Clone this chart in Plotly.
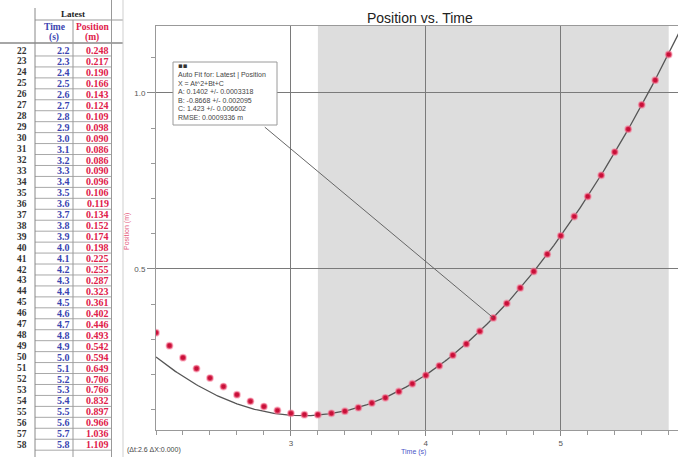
import plotly.graph_objects as go
import numpy as np

# ---------------- data ----------------
row_numbers = list(range(20, 59))
time_s = [2.0, 2.1, 2.2, 2.3, 2.4, 2.5, 2.6, 2.7, 2.8, 2.9, 3.0, 3.1, 3.2, 3.3, 3.4, 3.5,
          3.6, 3.7, 3.8, 3.9, 4.0, 4.1, 4.2, 4.3, 4.4, 4.5, 4.6, 4.7, 4.8, 4.9, 5.0,
          5.1, 5.2, 5.3, 5.4, 5.5, 5.6, 5.7, 5.8]
position_m = [0.319, 0.282, 0.248, 0.217, 0.190, 0.166, 0.143, 0.124, 0.109, 0.098, 0.090,
              0.086, 0.086, 0.090, 0.096, 0.106, 0.119, 0.134, 0.152, 0.174, 0.198,
              0.225, 0.255, 0.287, 0.323, 0.361, 0.402, 0.446, 0.493, 0.542, 0.594,
              0.649, 0.706, 0.766, 0.832, 0.897, 0.966, 1.036, 1.109]
first_table_row = 2  # table shows rows 22..58

# quadratic fit parameters (shown in fit box)
fit_A, fit_B, fit_C = 0.1402, -0.8668, 1.423
fit_lines = ["Auto Fit for: Latest | Position",
             "X = At^2+Bt+C",
             "A: 0.1402 +/- 0.0003318",
             "B: -0.8668 +/- 0.002095",
             "C: 1.423 +/- 0.006602",
             "RMSE: 0.0009336 m"]
fit_range = (3.2, 5.8)
x_ticks = [3, 4, 5]
y_ticks = [0.5, 1.0]
y_ticktext = ["0.5", "1.0"]

W, H = 678, 457
def px(x):
    return x / W
def py(y):
    return 1 - y / H

fig = go.Figure()

# fit curve
t_fit = np.linspace(2.0, 5.9, 300)
fig.add_trace(go.Scatter(x=t_fit, y=fit_A * t_fit**2 + fit_B * t_fit + fit_C, mode="lines",
                         line=dict(color="#555555", width=1.3), hoverinfo="skip",
                         showlegend=False))
# data points
fig.add_trace(go.Scatter(x=time_s, y=position_m, mode="markers",
                         marker=dict(color="#c80f38", size=6,
                                     line=dict(color="rgba(245,120,150,0.55)", width=1.8)),
                         showlegend=False))

shapes = []
# shaded fit region
shapes.append(dict(type="rect", xref="x", yref="y domain", x0=fit_range[0], x1=fit_range[1],
                   y0=0, y1=1, fillcolor="#dddddd", line=dict(width=0), layer="below"))

annotations = []
# title
annotations.append(dict(x=px(420), y=py(18), xref="paper", yref="paper", text="Position vs. Time",
                        showarrow=False, font=dict(family="Liberation Sans", size=14, color="#222"),
                        xanchor="center", yanchor="middle"))
# axis titles
annotations.append(dict(x=px(127), y=py(232), xref="paper", yref="paper", text="Position (m)",
                        textangle=-90, showarrow=False,
                        font=dict(family="Liberation Sans", size=7, color="#e4587a"),
                        xanchor="center", yanchor="middle"))
annotations.append(dict(x=px(414), y=py(452), xref="paper", yref="paper", text="Time (s)",
                        showarrow=False, font=dict(family="Liberation Sans", size=7, color="#4a56c8"),
                        xanchor="center", yanchor="middle"))
annotations.append(dict(x=px(125), y=py(450), xref="paper", yref="paper",
                        text="(\u0394t:2.6 \u0394X:0.000)", showarrow=False,
                        font=dict(family="Liberation Sans", size=7, color="#444"),
                        xanchor="left", yanchor="middle"))

# fit info box
shapes.append(dict(type="rect", xref="paper", yref="paper", x0=px(173), x1=px(277),
                   y0=py(125), y1=py(62), fillcolor="white",
                   line=dict(color="#9a9a9a", width=1), layer="above"))
annotations.append(dict(x=px(176), y=py(66), xref="paper", yref="paper", text="\u25aa\u25aa",
                        showarrow=False, font=dict(family="DejaVu Sans", size=7, color="#333"),
                        xanchor="left", yanchor="middle"))
for i, line in enumerate(fit_lines):
    annotations.append(dict(x=px(176), y=py(75 + i * 8.4), xref="paper", yref="paper", text=line,
                            showarrow=False, font=dict(family="Liberation Sans", size=7, color="#444"),
                            xanchor="left", yanchor="middle"))
# leader line from box to point at t=4.5
lead = time_s.index(4.5)
annotations.append(dict(x=time_s[lead], y=position_m[lead], xref="x", yref="y", text="",
                        showarrow=True, arrowhead=0, arrowwidth=1, arrowcolor="#666",
                        ax=-230, ay=-192, standoff=0))

# ---------------- table ----------------
serif = "Liberation Serif"
annotations.append(dict(x=px(73), y=py(14), xref="paper", yref="paper", text="<b>Latest</b>",
                        showarrow=False, font=dict(family=serif, size=9, color="#222"),
                        xanchor="center", yanchor="middle"))
for txt, cx, col in [("Time", 54, "#3a44b0"), ("(s)", 54, "#3a44b0"),
                     ("Position", 92, "#e0204a"), ("(m)", 92, "#e0204a")]:
    yy = 27 if txt in ("Time", "Position") else 37
    annotations.append(dict(x=px(cx), y=py(yy), xref="paper", yref="paper", text=f"<b>{txt}</b>",
                            showarrow=False, font=dict(family=serif, size=9.5, color=col),
                            xanchor="center", yanchor="middle"))
row_h = 10.95
y0_row = 50.5
for k, i in enumerate(range(first_table_row, len(time_s))):
    yc = y0_row + k * row_h
    annotations.append(dict(x=px(22), y=py(yc), xref="paper", yref="paper",
                            text=f"<b>{row_numbers[i]}</b>", showarrow=False,
                            font=dict(family=serif, size=9.5, color="#333"),
                            xanchor="center", yanchor="middle"))
    annotations.append(dict(x=px(72), y=py(yc), xref="paper", yref="paper",
                            text=f"<b>{time_s[i]:.1f}</b>", showarrow=False,
                            font=dict(family=serif, size=10, color="#3a44b0"),
                            xanchor="right", yanchor="middle"))
    annotations.append(dict(x=px(111), y=py(yc), xref="paper", yref="paper",
                            text=f"<b>{position_m[i]:.3f}</b>", showarrow=False,
                            font=dict(family=serif, size=10, color="#e0204a"),
                            xanchor="right", yanchor="middle"))
    shapes.append(dict(type="line", xref="paper", yref="paper", x0=px(35), x1=px(111),
                       y0=py(yc + row_h / 2), y1=py(yc + row_h / 2),
                       line=dict(color="#a8a8a8", width=1)))
# table frame lines
shapes.append(dict(type="line", xref="paper", yref="paper", x0=px(35), x1=px(123),
                   y0=py(20), y1=py(20), line=dict(color="#999", width=1)))
shapes.append(dict(type="line", xref="paper", yref="paper", x0=px(0), x1=px(123),
                   y0=py(43), y1=py(43), line=dict(color="#888", width=1.5)))
shapes.append(dict(type="line", xref="paper", yref="paper", x0=px(35), x1=px(35),
                   y0=py(8), y1=py(457), line=dict(color="#888", width=1)))
shapes.append(dict(type="line", xref="paper", yref="paper", x0=px(73), x1=px(73),
                   y0=py(20), y1=py(457), line=dict(color="#999", width=1)))
shapes.append(dict(type="line", xref="paper", yref="paper", x0=px(111.5), x1=px(111.5),
                   y0=py(0), y1=py(457), line=dict(color="#999", width=1)))
shapes.append(dict(type="line", xref="paper", yref="paper", x0=px(123), x1=px(123),
                   y0=py(0), y1=py(457), line=dict(color="#cfcfcf", width=1)))

fig.update_layout(
    width=W, height=H,
    margin=dict(l=0, r=0, t=0, b=0),
    paper_bgcolor="white", plot_bgcolor="white",
    shapes=shapes, annotations=annotations,
    showlegend=False,
    xaxis=dict(domain=[px(156), 1.0], range=[2.0, 5.869], tickmode="array", tickvals=x_ticks,
               ticks="outside", ticklen=5, tickcolor="#888",
               tickfont=dict(family="Liberation Sans", size=8, color="#555"),
               showgrid=True, gridcolor="#7a7a7a", gridwidth=1, zeroline=False,
               showline=True, linecolor="#999", linewidth=1, mirror=True,
               minor=dict(tickmode="linear", tick0=2.0, dtick=0.2, ticks="outside", ticklen=4,
                          tickcolor="#999", showgrid=False)),
    yaxis=dict(domain=[py(430), py(26)], range=[0.0426, 1.190], tickmode="array",
               tickvals=y_ticks, ticktext=y_ticktext,
               ticks="outside", ticklen=8, tickcolor="#888",
               tickfont=dict(family="Liberation Sans", size=8, color="#555"),
               showgrid=True, gridcolor="#7a7a7a", gridwidth=1, zeroline=False,
               showline=True, linecolor="#999", linewidth=1, mirror=True,
               minor=dict(tickmode="linear", tick0=0.0, dtick=0.1, ticks="outside", ticklen=4,
                          tickcolor="#999", showgrid=False)),
)

fig.write_html("out.html", config={"displayModeBar": False},
               post_script="document.body.style.margin='0';document.body.style.padding='0';")
